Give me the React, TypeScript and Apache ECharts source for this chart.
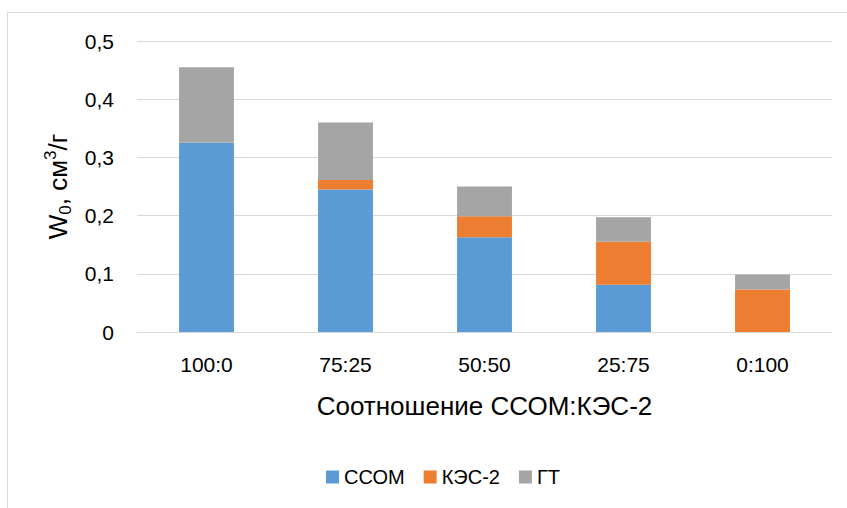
import React, { useEffect, useRef } from "react";
import * as echarts from "echarts";

// Ratio of ССОМ to КЭС-2 in the blend
const categories = ["100:0", "75:25", "50:50", "25:75", "0:100"];

// Pore volume contributions, cm³/g, stacked per ratio
const ssomValues = [0.325, 0.245, 0.163, 0.081, 0];
const kes2Values = [0, 0.016, 0.036, 0.074, 0.073];
const gtValues = [0.13, 0.099, 0.051, 0.042, 0.026];

const seriesNames = ["ССОМ", "КЭС-2", "ГТ"];
const seriesColors = ["#5B9BD5", "#ED7D31", "#A5A5A5"];

const yTicks = { min: 0, max: 0.5, interval: 0.1 };

const FONT = "'Liberation Sans', Arial, sans-serif";

export default function App() {
  const ref = useRef<HTMLDivElement | null>(null);

  useEffect(() => {
    if (!ref.current) return;
    const chart = echarts.init(ref.current, undefined, { renderer: "svg" });
    const values = [ssomValues, kes2Values, gtValues];

    chart.setOption({
      animation: false,
      backgroundColor: "#ffffff",
      textStyle: { fontFamily: FONT, color: "#000000" },
      graphic: [
        {
          type: "rect",
          shape: { x: 7.5, y: 12.5, width: 900, height: 600 },
          style: { fill: "none", stroke: "#D9D9D9", lineWidth: 1 },
          silent: true,
        },
      ],
      grid: { left: 137, right: 15, top: 41, bottom: 176, containLabel: false },
      legend: {
        left: 321,
        top: 462,
        itemWidth: 13,
        itemHeight: 13,
        itemGap: 19,
        icon: "rect",
        textStyle: { fontFamily: FONT, fontSize: 20, color: "#000000" },
        data: seriesNames,
      },
      xAxis: {
        type: "category",
        data: categories,
        name: "Соотношение ССОМ:КЭС-2",
        nameLocation: "middle",
        nameGap: 61,
        nameTextStyle: { fontFamily: FONT, fontSize: 26, color: "#000000" },
        axisLine: { show: true, lineStyle: { color: "#D9D9D9", width: 1 } },
        axisTick: { show: false },
        axisLabel: { fontFamily: FONT, fontSize: 21, color: "#000000", margin: 22 },
      },
      yAxis: {
        type: "value",
        min: yTicks.min,
        max: yTicks.max,
        interval: yTicks.interval,
        name: "{w|W}{s|0}{w|, см}{p|3}{w|/г}",
        nameLocation: "middle",
        nameRotate: 90,
        nameGap: 62,
        nameTextStyle: {
          fontFamily: FONT,
          color: "#000000",
          rich: {
            w: { fontFamily: FONT, fontSize: 26, color: "#000000", lineHeight: 32 },
            s: { fontFamily: FONT, fontSize: 17, color: "#000000", verticalAlign: "bottom", lineHeight: 17 },
            p: { fontFamily: FONT, fontSize: 17, color: "#000000", verticalAlign: "top", lineHeight: 17 },
          },
        },
        axisLine: { show: false },
        axisTick: { show: false },
        splitLine: { show: true, lineStyle: { color: "#D9D9D9", width: 1 } },
        axisLabel: {
          fontFamily: FONT,
          fontSize: 21,
          color: "#000000",
          margin: 23,
          formatter: (v: number) => (v === 0 ? "0" : v.toFixed(1).replace(".", ",")),
        },
      },
      series: seriesNames.map((name, i) => ({
        name,
        type: "bar",
        stack: "total",
        barWidth: "39.5%",
        itemStyle: { color: seriesColors[i] },
        data: values[i],
      })),
    });

    return () => chart.dispose();
  }, []);

  return (
    <div
      ref={ref}
      style={{ position: "absolute", left: 0, top: 0, width: 847, height: 508 }}
    />
  );
}
